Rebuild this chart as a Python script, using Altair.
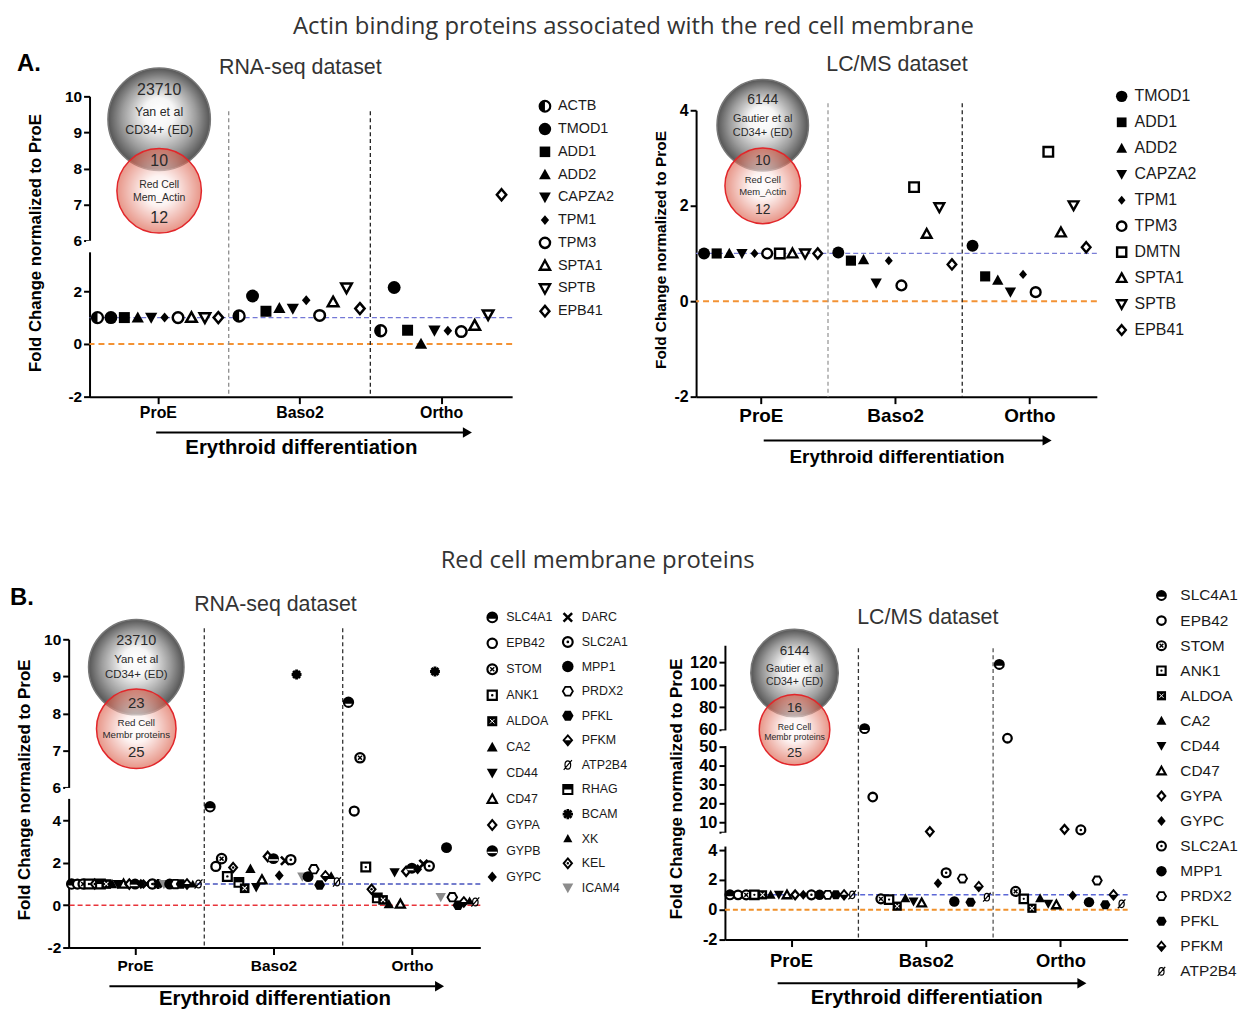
import altair as alt
import pandas as pd

SANS = "Liberation Sans"
TITLE_FONT = "Open Sans"
STAGES = ["ProE", "Baso2", "Ortho"]

# ---------------- data ----------------
# A. actin binding proteins, RNA-seq
A_RNA_PROTEINS = ["ACTB", "TMOD1", "ADD1", "ADD2", "CAPZA2", "TPM1", "TPM3", "SPTA1", "SPTB", "EPB41"]
A_RNA_PROE = [1.0, 1.0, 1.0, 1.0, 1.0, 1.0, 1.0, 1.0, 1.0, 1.0]
A_RNA_BASO2 = [1.06, 1.82, 1.24, 1.36, 1.34, 1.66, 1.08, 1.59, 2.13, 1.34]
A_RNA_ORTHO = [0.50, 2.14, 0.52, 0.00, 0.51, 0.50, 0.47, 0.70, 1.11, 7.27]

# A. actin binding proteins, LC/MS
A_MS_PROTEINS = ["TMOD1", "ADD1", "ADD2", "CAPZA2", "TPM1", "TPM3", "DMTN", "SPTA1", "SPTB", "EPB41"]
A_MS_PROE = [1.0, 1.0, 1.0, 1.0, 1.0, 1.0, 1.0, 1.0, 1.0, 1.0]
A_MS_BASO2 = [1.02, 0.85, 0.87, 0.38, 0.85, 0.33, 2.39, 1.41, 1.97, 0.77]
A_MS_ORTHO = [1.16, 0.52, 0.44, 0.19, 0.56, 0.19, 3.13, 1.44, 2.01, 1.13]

# B. red cell membrane proteins, RNA-seq
B_RNA_LEGEND = ["SLC4A1", "EPB42", "STOM", "ANK1", "ALDOA", "CA2", "CD44", "CD47", "GYPA", "GYPB", "GYPC",
                "DARC", "SLC2A1", "MPP1", "PRDX2", "PFKL", "PFKM", "ATP2B4", "RHAG", "BCAM", "XK", "KEL", "ICAM4"]
B_RNA_PROTEINS = ["SLC4A1", "EPB42", "STOM", "ANK1", "KEL", "RHAG", "ALDOA", "CA2", "CD44", "CD47", "GYPA", "GYPB",
                  "GYPC", "DARC", "SLC2A1", "BCAM", "ICAM4", "MPP1", "PRDX2", "PFKL", "PFKM", "XK", "ATP2B4"]
B_RNA_PROE = [1.0, 1.0, 1.0, 1.0, 1.0, 1.0, 1.0, 1.0, 1.0, 1.0, 1.0, 1.0,
              1.0, 1.0, 1.0, 1.0, 1.0, 1.0, 1.0, 1.0, 1.0, 1.0, 1.0]
B_RNA_BASO2 = [4.65, 1.83, 2.20, 1.36, 1.78, 1.08, 0.80, 1.72, 0.85, 1.20, 2.30, 2.20,
               1.40, 2.10, 2.15, 9.05, 1.35, 1.35, 1.70, 0.95, 1.38, 1.40, 1.10]
B_RNA_ORTHO = [8.30, 4.45, 6.80, 1.80, 0.75, 0.35, 0.25, 0.05, 1.55, 0.05, 1.60, 1.75,
               1.70, 1.95, 1.85, 9.13, 0.38, 2.72, 0.38, 0.00, 0.15, 0.20, 0.15]

# B. red cell membrane proteins, LC/MS
B_MS_PROTEINS = ["SLC4A1", "EPB42", "STOM", "ANK1", "ALDOA", "CA2", "CD44", "CD47", "GYPA", "GYPC",
                 "SLC2A1", "MPP1", "PRDX2", "PFKL", "PFKM", "ATP2B4"]
B_MS_PROE = [1.0, 1.0, 1.0, 1.0, 1.0, 1.0, 1.0, 1.0, 1.0, 1.0, 1.0, 1.0, 1.0, 1.0, 1.0, 1.0]
B_MS_BASO2 = [61.0, 23.5, 0.73, 0.68, 0.24, 0.77, 0.55, 0.46, 5.3, 1.78, 2.48, 0.55, 2.09, 0.50, 1.56, 0.84]
B_MS_ORTHO = [118.0, 55.0, 1.23, 0.73, 0.10, 0.77, 0.40, 0.33, 6.5, 0.95, 6.2, 0.51, 1.96, 0.33, 1.00, 0.40]

VENN_A_RNA = ["23710", "Yan et al", "CD34+ (ED)", "10", "Red Cell", "Mem_Actin", "12"]
VENN_A_MS = ["6144", "Gautier et al", "CD34+ (ED)", "10", "Red Cell", "Mem_Actin", "12"]
VENN_B_RNA = ["23710", "Yan et al", "CD34+ (ED)", "23", "Red Cell", "Membr proteins", "25"]
VENN_B_MS = ["6144", "Gautier et al", "CD34+ (ED)", "16", "Red Cell", "Membr proteins", "25"]

# ---------------- marker styles ----------------
TRI_UP = "M0,-1L1,0.8L-1,0.8Z"
TRI_DOWN = "M0,1L1,-0.8L-1,-0.8Z"
DIAMOND = "M0,-1L0.85,0L0,1L-0.85,0Z"
HEX = "M-0.5,-0.87L0.5,-0.87L1,0L0.5,0.87L-0.5,0.87L-1,0Z"
LEFT_HALF = "M0,-1A1,1 0 0 0 0,1Z"
TOP_CAP = "M-0.954,0.3A1,1 0 1 1 0.954,0.3Z"
DIAMOND_BOTTOM = "M-0.85,0L0.85,0L0,1Z"
SQUARE_TOP = "M-1,-1L1,-1L1,0L-1,0Z"
CROSS_X = "M-1,-1L1,1M-1,1L1,-1"
ASTERISK = "M-1,0L1,0M0,-1L0,1M-0.71,-0.71L0.71,0.71M-0.71,0.71L0.71,-0.71"
SLASHED_O = "M-0.55,0A0.55,0.8 0 1 0 0.55,0A0.55,0.8 0 1 0 -0.55,0M-0.8,0.95L0.8,-0.95"
HSTRIPE = "M-0.85,0.25L0.85,0.25"

K, WH, T = "black", "white", "transparent"
STYLES = {
    "disc": [("circle", 1.0, K, T, 0)],
    "ring": [("circle", 0.82, WH, K, 2.4)],
    "box": [("square", 0.85, K, T, 0)],
    "obox": [("square", 0.8, WH, K, 2.4)],
    "tri": [(TRI_UP, 0.95, K, T, 0)],
    "otri": [(TRI_UP, 0.82, WH, K, 2.4)],
    "itri": [(TRI_DOWN, 0.95, K, T, 0)],
    "oitri": [(TRI_DOWN, 0.82, WH, K, 2.4)],
    "dia": [(DIAMOND, 0.95, K, T, 0)],
    "sdia": [(DIAMOND, 0.78, K, T, 0)],
    "odia": [(DIAMOND, 0.85, WH, K, 2.4)],
    "halfleft": [("circle", 0.85, WH, K, 2.2), (LEFT_HALF, 0.85, K, T, 0)],
    "cap": [("circle", 0.85, WH, K, 2.2), (TOP_CAP, 0.85, K, T, 0)],
    "discstripe": [("circle", 1.0, K, T, 0), (HSTRIPE, 1.0, T, WH, 1.6)],
    "ringx": [("circle", 0.85, WH, K, 2.4), (CROSS_X, 0.36, T, K, 1.6)],
    "oboxdot": [("square", 0.8, WH, K, 2.4), ("circle", 0.22, K, T, 0)],
    "boxx": [("square", 0.88, K, T, 0), (CROSS_X, 0.4, T, WH, 1.1)],
    "ringdot": [("circle", 0.85, WH, K, 2.4), ("circle", 0.24, K, T, 0)],
    "xmark": [(CROSS_X, 0.75, T, K, 2.8)],
    "ohex": [(HEX, 0.88, WH, K, 2.0)],
    "hex": [(HEX, 1.0, K, T, 0)],
    "halfdia": [(DIAMOND, 0.88, WH, K, 2.0), (DIAMOND_BOTTOM, 0.88, K, T, 0)],
    "slashed": [(SLASHED_O, 0.9, T, K, 1.3)],
    "boxtop": [("square", 0.8, WH, K, 2.2), (SQUARE_TOP, 0.8, K, T, 0)],
    "star": [(ASTERISK, 0.9, T, K, 3.0)],
    "smalltri": [(TRI_UP, 0.8, K, T, 0)],
    "odiadot": [(DIAMOND, 0.85, WH, K, 2.2), ("circle", 0.22, K, T, 0)],
    "graytri": [(TRI_DOWN, 0.95, "#8c8c8c", T, 0)],
}
MARKER = {
    "ACTB": "halfleft", "TMOD1": "disc", "ADD1": "box", "ADD2": "tri", "CAPZA2": "itri", "TPM1": "sdia",
    "TPM3": "ring", "DMTN": "obox", "SPTA1": "otri", "SPTB": "oitri", "EPB41": "odia",
    "SLC4A1": "cap", "EPB42": "ring", "STOM": "ringx", "ANK1": "oboxdot", "ALDOA": "boxx", "CA2": "tri",
    "CD44": "itri", "CD47": "otri", "GYPA": "odia", "GYPB": "discstripe", "GYPC": "dia", "DARC": "xmark",
    "SLC2A1": "ringdot", "MPP1": "disc", "PRDX2": "ohex", "PFKL": "hex", "PFKM": "halfdia",
    "ATP2B4": "slashed", "RHAG": "boxtop", "BCAM": "star", "XK": "smalltri", "KEL": "odiadot",
    "ICAM4": "graytri",
}

DUMMY = pd.DataFrame({"k": [0]})

GRAY_GRAD = {"gradient": "radial", "x1": 0.5, "y1": 0.42, "r1": 0, "x2": 0.5, "y2": 0.5, "r2": 0.5,
             "stops": [{"offset": 0, "color": "#ffffff"}, {"offset": 0.3, "color": "#f6f6f6"},
                       {"offset": 0.72, "color": "#9c9c9c"}, {"offset": 1, "color": "#555555"}]}
RED_GRAD = {"gradient": "radial", "x1": 0.5, "y1": 0.5, "r1": 0, "x2": 0.5, "y2": 0.5, "r2": 0.5,
            "stops": [{"offset": 0, "color": "#ffffff"}, {"offset": 0.35, "color": "#fcecea"},
                      {"offset": 1, "color": "#d9553f"}]}


def menc():
    return dict(
        shape=alt.Shape("shape:N", scale=None, legend=None),
        size=alt.Size("size:Q", scale=None, legend=None),
        fill=alt.Fill("fill:N", scale=None, legend=None),
        stroke=alt.Stroke("stroke:N", scale=None, legend=None),
        strokeWidth=alt.StrokeWidth("sw:Q", scale=None, legend=None),
    )


def marker_rows(protein, base, D, swf):
    out = []
    for shape, k, fill, stroke, sw in STYLES[MARKER[protein]]:
        r = dict(base)
        r.update(protein=protein, shape=shape, size=(k * D) ** 2, fill=fill, stroke=stroke, sw=sw * swf)
        out.append(r)
    return out


def text_at(txt, x, y, size, weight="normal", font=SANS, color="#222222", align="center"):
    return alt.Chart(DUMMY).mark_text(text=txt, font=font, fontSize=size, fontWeight=weight, color=color,
                                      align=align, baseline="middle").encode(x=alt.value(x), y=alt.value(y))


def panel(p):
    W, H = p["W"], p["H"]
    step, first, G, center = p["step"], p["first"], p["G"], p["center"]
    xs = alt.Scale(domain=[-first / step, (W - first) / step], nice=False, zero=False)
    ys = alt.Scale(domain=p["ydom"], range=p["yrng"], nice=False, zero=False)
    ticks = [center + g * G for g in range(3)]
    lab = "['ProE','Baso2','Ortho'][round((datum.value - %s) / %s)]" % (center, G)
    xaxis = alt.Axis(values=ticks, labelExpr=lab, grid=False, zindex=0, domainColor="black", domainWidth=2,
                     tickColor="black", tickWidth=2, tickSize=7, labelFont=SANS, labelFontSize=p["xlfs"],
                     labelFontWeight="bold", labelColor="black", labelPadding=p["xlpad"], labelBaseline="middle",
                     labelFlush=False, labelOverlap=False, title="Erythroid differentiation", titleFont=SANS,
                     titleFontSize=p["xtfs"], titleFontWeight="bold", titleColor="black", titleY=p["xty"],
                     titleBaseline="middle")
    yaxis = alt.Axis(values=p["yticks"], labelExpr=p.get("ylabexpr", "toString(datum.value)"), grid=False,
                     zindex=0, domainColor="black", domainWidth=2, tickColor="black", tickWidth=2, tickSize=6,
                     labelFont=SANS, labelFontSize=p["ylfs"], labelFontWeight="bold", labelColor="black",
                     labelPadding=2, labelOverlap=False, labelFlush=False,
                     title="Fold Change normalized to ProE", titleFont=SANS, titleFontSize=p["ytfs"],
                     titleFontWeight="bold", titleColor="black", titleX=p["ytx"], titleY=p["yty"],
                     titleBaseline="middle", titleAlign="center")

    rows = []
    for g, vals in enumerate(p["values"]):
        for s, (prot, v) in enumerate(zip(p["proteins"], vals)):
            rows += marker_rows(prot, {"stage": STAGES[g], "x": g * G + s, "y": v}, p["D"], p["swf"])
    df = pd.DataFrame(rows)

    layers = []
    for fr in p.get("frames", []):
        layers.append(alt.Chart(DUMMY).mark_rect(opacity=0).encode(
            x=alt.value(0), x2=alt.value(1), y=alt.value(fr[0]), y2=alt.value(fr[1])))
    # reference lines at 1 and 0
    for val, col, dash, wd in p["hlines"]:
        layers.append(alt.Chart(DUMMY).mark_rule(color=col, strokeDash=dash, strokeWidth=wd).encode(
            y=alt.Y(datum=val, scale=ys, axis=yaxis)))
    # stage separators
    for g, col in enumerate(p["sepcolors"]):
        layers.append(alt.Chart(DUMMY).mark_rule(color=col, strokeDash=[4, 3], strokeWidth=1.3).encode(
            x=alt.X(datum=center + G / 2 + g * G, scale=xs, axis=xaxis),
            y=alt.value(p["septop"]), y2=alt.value(H)))
    # data points
    layers.append(alt.Chart(df).mark_point(filled=True, opacity=1).encode(
        x=alt.X("x:Q", scale=xs, axis=xaxis), y=alt.Y("y:Q", scale=ys, axis=yaxis), **menc()))
    # axis breaks
    for lo, hi in p.get("breaks", []):
        layers.append(alt.Chart(DUMMY).mark_rule(color="white", strokeWidth=7).encode(
            x=alt.value(0), y=alt.Y(datum=lo, scale=ys, axis=yaxis), y2=alt.Y2(datum=hi)))
    # venn inset
    vx = p["venn_x"]
    gy, gd, ry, rd = p["venn_circ"]
    layers.append(alt.Chart(DUMMY).mark_point(shape="circle", size=gd * gd, filled=True, fill=GRAY_GRAD,
                                              stroke="#777777", strokeWidth=1.5, opacity=1).encode(
        x=alt.value(vx), y=alt.value(gy)))
    layers.append(alt.Chart(DUMMY).mark_point(shape="circle", size=rd * rd, filled=True, fill=RED_GRAD,
                                              fillOpacity=0.62, stroke="#e2262a", strokeOpacity=1,
                                              strokeWidth=1.5, opacity=1).encode(
        x=alt.value(vx), y=alt.value(ry)))
    for txt, yy, fs in zip(p["venn_text"], p["venn_ty"], p["venn_fs"]):
        layers.append(text_at(txt, vx, yy, fs, color="#2a2a2a"))
    # panel title
    layers.append(text_at(p["title"], p["title_xy"][0], p["title_xy"][1], 21.5, color="#333333"))
    # arrow
    ax1, ax2, ay = p["arrow"]
    layers.append(alt.Chart(DUMMY).mark_rule(color="black", strokeWidth=2).encode(
        x=alt.value(ax1), x2=alt.value(ax2 - 4), y=alt.value(ay)))
    layers.append(alt.Chart(DUMMY).mark_point(shape="triangle-right", size=110, filled=True, color="black",
                                              opacity=1).encode(x=alt.value(ax2), y=alt.value(ay)))
    for txt, x, y, fs, wt, font, col, al in p.get("extra_text", []):
        layers.append(text_at(txt, x, y, fs, weight=wt, font=font, color=col, align=al))
    return alt.layer(*layers).properties(width=W, height=H)


def legend(proteins, W, H, r0, r1, mx, tx, D, swf, fs):
    n = len(proteins)
    ys = alt.Scale(domain=[0, n - 1], range=[r0, r1], nice=False, zero=False)
    rows = []
    for i, prot in enumerate(proteins):
        rows += marker_rows(prot, {"idx": i}, D, swf)
    marks = alt.Chart(pd.DataFrame(rows)).mark_point(filled=True, opacity=1).encode(
        x=alt.value(mx), y=alt.Y("idx:Q", scale=ys, axis=None), **menc())
    txt = alt.Chart(pd.DataFrame({"protein": proteins, "idx": list(range(n))})).mark_text(
        align="left", baseline="middle", font=SANS, fontSize=fs, color="#1a1a1a").encode(
        x=alt.value(tx), y=alt.Y("idx:Q", scale=ys, axis=None), text="protein:N")
    return alt.layer(marks, txt).properties(width=W, height=H)


A_left = panel(dict(
    W=425, H=302, step=13.5, first=8, G=10.55, center=4.5,
    ydom=[-2, 3.47, 6, 10], yrng=[302, 157, 145, 0], yticks=[-2, 0, 2, 6, 7, 8, 9, 10],
    breaks=[(3.5, 5.95)],
    xlfs=16, xlpad=9, xtfs=20.5, xty=51, ylfs=15.5, ytfs=16.8, ytx=-54, yty=147,
    proteins=A_RNA_PROTEINS, values=[A_RNA_PROE, A_RNA_BASO2, A_RNA_ORTHO], D=13, swf=1.05,
    hlines=[(1, "#7478d6", [5, 3], 1.3), (0, "#f39234", [6, 4], 2)],
    sepcolors=["#8c8c8c", "#222222"], septop=15,
    venn_x=70, venn_circ=(23, 103, 95, 85), venn_text=VENN_A_RNA,
    venn_ty=[-6, 16, 34, 65, 89, 102, 122], venn_fs=[16, 12.5, 12.5, 16, 10.5, 10.5, 16],
    title="RNA-seq dataset", title_xy=(212, -28), arrow=(67, 380, 338),
    extra_text=[("Actin binding proteins associated with the red cell membrane", 547, -70, 24, "normal",
                 TITLE_FONT, "#333333", "center"),
                ("A.", -73, -33, 24, "bold", SANS, "black", "left")],
))

A_right = panel(dict(
    W=403, H=302, step=12.7, first=8, G=10.63, center=4.5,
    ydom=[-2, 4], yrng=[302, 14], yticks=[-2, 0, 2, 4],
    xlfs=19, xlpad=12, xtfs=19, xty=60, ylfs=16, ytfs=15.5, ytx=-36, yty=154,
    proteins=A_MS_PROTEINS, values=[A_MS_PROE, A_MS_BASO2, A_MS_ORTHO], D=12, swf=1.0,
    hlines=[(1, "#7a7ed6", [5, 3], 1.3), (0, "#f39234", [6, 4], 2)],
    sepcolors=["#9a9a9a", "#222222"], septop=7,
    venn_x=67, venn_circ=(29, 92, 90, 76), venn_text=VENN_A_MS,
    venn_ty=[4, 23, 37, 65, 84, 96, 114], venn_fs=[14, 11, 11, 14, 9.5, 9.5, 14],
    title="LC/MS dataset", title_xy=(202, -31), arrow=(68, 353, 346),
))

B_left = panel(dict(
    W=414, H=310, step=5.8, first=3, G=24, center=11,
    ydom=[-2, 5, 6, 10], yrng=[310, 161, 149, 0], yticks=[-2, 0, 2, 4, 6, 7, 8, 9, 10],
    breaks=[(5.04, 5.96)],
    xlfs=15.5, xlpad=11, xtfs=20.5, xty=51, ylfs=15.5, ytfs=17, ytx=-44, yty=151,
    proteins=B_RNA_PROTEINS, values=[B_RNA_PROE, B_RNA_BASO2, B_RNA_ORTHO], D=11, swf=0.95,
    hlines=[(1, "#4753bd", [5, 3], 1.5), (0, "#e8343a", [5, 3], 1.5)],
    sepcolors=["#333333", "#333333"], septop=-11,
    venn_x=68, venn_circ=(28, 96, 90, 80), venn_text=VENN_B_RNA,
    venn_ty=[2, 21, 36, 64, 84, 96, 113], venn_fs=[14.5, 11.5, 11.5, 15, 9.8, 9.8, 15],
    title="RNA-seq dataset", title_xy=(208, -34), arrow=(41, 373, 349),
    frames=[(-100, 0)],
    extra_text=[("Red cell membrane proteins", 532, -79, 24, "normal", TITLE_FONT, "#333333", "center"),
                ("B.", -59, -41, 24, "bold", SANS, "black", "left")],
))

B_right = panel(dict(
    W=405, H=302, step=8.2, first=5, G=16.52, center=7.5,
    ydom=[-2, 4.2, 5, 50, 60, 135], yrng=[302, 209, 194, 108, 91, 6],
    yticks=[-2, 0, 2, 4, 5, 10, 20, 30, 40, 50, 60, 80, 100, 120],
    ylabexpr="datum.value == 5 ? '' : toString(datum.value)",
    breaks=[(4.23, 4.97), (50.4, 59.6)],
    xlfs=18.5, xlpad=14, xtfs=20.5, xty=58, ylfs=16.5, ytfs=17, ytx=-49, yty=150,
    proteins=B_MS_PROTEINS, values=[B_MS_PROE, B_MS_BASO2, B_MS_ORTHO], D=10.5, swf=0.95,
    hlines=[(1, "#5b67d6", [5, 3], 1.5), (0, "#f0902a", [5, 3], 1.8)],
    sepcolors=["#333333", "#555555"], septop=9,
    venn_x=70, venn_circ=(34, 88, 91, 71), venn_text=VENN_B_MS,
    venn_ty=[12, 30, 43, 69, 88, 98, 114], venn_fs=[13.5, 10.5, 10.5, 13.5, 8.8, 8.8, 13.5],
    title="LC/MS dataset", title_xy=(204, -21), arrow=(53, 359, 346),
))

spacerA = alt.layer(
    alt.Chart(DUMMY).mark_rect(opacity=0).encode(x=alt.value(0), x2=alt.value(1), y=alt.value(0),
                                                 y2=alt.value(382))
).properties(width=21, height=302)

legA = legend(A_RNA_PROTEINS, 185, 302, 10, 216, 33, 46, 12.5, 1.0, 14.5)
legAR = legend(A_MS_PROTEINS, 140, 302, 0, 235, 25, 38, 11.5, 1.0, 16)
legB1 = legend(B_RNA_LEGEND[:11], 76, 302, -22, 239, 12, 26, 11.5, 0.9, 12.5)
legB2 = legend(B_RNA_LEGEND[11:], 170, 302, -22, 250, 12, 26, 11.5, 0.9, 12.5)
legBR = legend(B_MS_PROTEINS, 100, 302, -44, 334, 34, 53, 10.5, 0.9, 15.5)

rowA = alt.hconcat(spacerA, A_left, legA, A_right, legAR, spacing=0, bounds="flush")
rowB = alt.hconcat(B_left, legB1, legB2, B_right, legBR, spacing=0, bounds="flush")

chart = alt.vconcat(rowA, rowB, spacing=64).properties(
    padding={"left": 2, "top": 4, "right": 4, "bottom": 4}
).configure_view(strokeWidth=0)

chart.save("out.html", embed_options={"renderer": "svg", "actions": False})
